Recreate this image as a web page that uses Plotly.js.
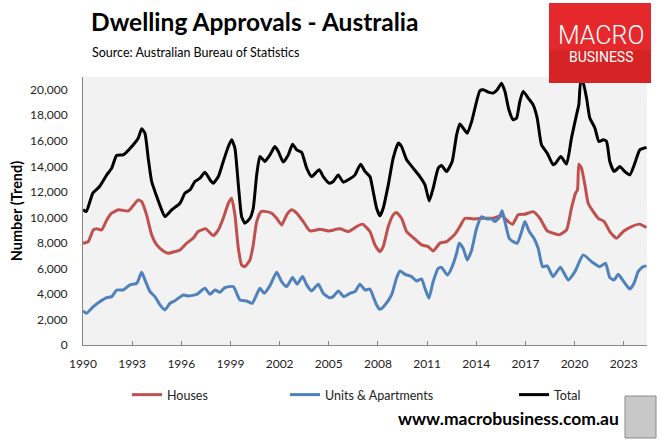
<!DOCTYPE html>
<html>
<head>
<meta charset="utf-8">
<script src="https://cdn.plot.ly/plotly-3.0.1.min.js"></script>
<style>
  body { margin: 0; background: #fff; }
  #chart { width: 660px; height: 440px; }
</style>
</head>
<body>
<div id="chart"></div>
<script>
// values (decimal years)
const housesX = [1990.0, 1990.32, 1990.63, 1990.84, 1991.14, 1991.45, 1991.75, 1992.16, 1992.77, 1993.07,
  1993.37, 1993.58, 1993.88, 1994.19, 1994.5, 1994.9, 1995.2, 1995.61, 1995.92, 1996.33,
  1996.73, 1997.03, 1997.49, 1997.95, 1998.26, 1998.56, 1998.87, 1999.07, 1999.27, 1999.48,
  1999.68, 1999.88, 2000.19, 2000.39, 2000.6, 2000.86, 2001.21, 2001.51, 2001.82, 2002.12,
  2002.43, 2002.73, 2003.04, 2003.44, 2003.85, 2004.46, 2004.97, 2005.68, 2006.19, 2006.7,
  2007.06, 2007.51, 2007.82, 2008.12, 2008.32, 2008.63, 2008.93, 2009.13, 2009.44, 2009.75,
  2010.15, 2010.66, 2011.07, 2011.37, 2011.78, 2012.19, 2012.7, 2013.0, 2013.31, 2013.82,
  2014.43, 2015.03, 2015.54, 2015.95, 2016.22, 2016.56, 2016.97, 2017.47, 2017.88, 2018.33,
  2018.69, 2019.06, 2019.51, 2019.81, 2020.06, 2020.18, 2020.26, 2020.42, 2020.63, 2020.83,
  2021.14, 2021.44, 2021.81, 2022.15, 2022.56, 2022.97, 2023.48, 2023.98, 2024.39];
const housesY = [7980, 8100, 9020, 9100, 9020, 9800, 10330, 10590, 10510, 10930,
  11370, 11240, 10200, 8630, 7840, 7370, 7190, 7320, 7450, 7980,
  8370, 8890, 9100, 8570, 9020, 9930, 11110, 11500, 10200, 7580,
  6270, 6140, 6670, 7840, 9670, 10450, 10450, 10330, 9930, 9410,
  10200, 10590, 10330, 9670, 8940, 9070, 8940, 9100, 8890, 9280,
  9470, 8890, 7840, 7320, 7710, 9280, 10200, 10380, 9930, 8890,
  8420, 7840, 7710, 7370, 7980, 8100, 8680, 9280, 9930, 9880,
  9930, 9930, 10140, 9670, 9470, 10200, 10250, 10450, 9930, 8940,
  8760, 8630, 9020, 10720, 11900, 12160, 14170, 13860, 12550, 11110,
  10450, 9930, 9670, 8890, 8370, 8890, 9280, 9470, 9200];

const unitsX = [1990.0, 1990.22, 1990.63, 1991.04, 1991.45, 1991.75, 1992.06, 1992.46, 1992.87, 1993.28,
  1993.58, 1993.78, 1994.09, 1994.39, 1994.7, 1995.0, 1995.31, 1995.61, 1996.12, 1996.42,
  1996.94, 1997.44, 1997.75, 1998.05, 1998.36, 1998.66, 1999.17, 1999.58, 1999.99, 2000.33,
  2000.8, 2001.06, 2001.41, 2001.82, 2002.12, 2002.43, 2002.79, 2003.07, 2003.4, 2003.65,
  2003.95, 2004.36, 2004.66, 2005.03, 2005.27, 2005.58, 2005.92, 2006.29, 2006.6, 2006.9,
  2007.21, 2007.51, 2007.71, 2007.92, 2008.12, 2008.43, 2008.83, 2009.13, 2009.34, 2009.65,
  2010.05, 2010.36, 2010.66, 2010.87, 2011.11, 2011.37, 2011.68, 2011.88, 2012.25, 2012.53,
  2012.8, 2012.96, 2013.2, 2013.45, 2013.72, 2014.02, 2014.33, 2014.63, 2014.94, 2015.14,
  2015.4, 2015.58, 2015.75, 2016.01, 2016.25, 2016.5, 2016.77, 2016.97, 2017.23, 2017.52,
  2017.78, 2018.05, 2018.33, 2018.69, 2019.13, 2019.61, 2020.02, 2020.53, 2021.04, 2021.54,
  2021.89, 2022.15, 2022.42, 2022.66, 2023.07, 2023.37, 2023.63, 2023.88, 2024.19, 2024.39];
const unitsY = [2670, 2490, 3000, 3400, 3710, 3790, 4310, 4310, 4710, 4840,
  5700, 5100, 4180, 3790, 3140, 2750, 3270, 3470, 3920, 3840,
  3970, 4440, 3970, 4310, 4130, 4500, 4580, 3530, 3450, 3270,
  4440, 4050, 4650, 5700, 4970, 4580, 5280, 4760, 5360, 4710,
  4240, 4760, 4050, 3710, 3790, 4240, 3790, 4050, 4180, 4760,
  4310, 4390, 3790, 3140, 2800, 3140, 3920, 5230, 5800, 5540,
  5360, 5020, 5180, 4440, 3660, 4970, 6010, 6070, 5490, 6140,
  7190, 7980, 7580, 6670, 7450, 9150, 10060, 9880, 9880, 9670,
  9980, 10510, 9670, 8370, 8100, 7980, 8890, 9670, 8890, 8370,
  7580, 6140, 6200, 5360, 6100, 5100, 5750, 7060, 6530, 6140,
  6410, 5280, 5100, 5540, 4840, 4390, 4840, 5750, 6140, 6200];

const totalX = [1990.0, 1990.2, 1990.6, 1991.0, 1991.45, 1991.75, 1992.05, 1992.46, 1993.07, 1993.37,
  1993.58, 1993.78, 1993.98, 1994.19, 1994.5, 1994.8, 1995.0, 1995.41, 1995.92, 1996.22,
  1996.53, 1996.83, 1997.14, 1997.44, 1997.75, 1997.95, 1998.26, 1998.56, 1998.87, 1999.07,
  1999.27, 1999.48, 1999.68, 1999.88, 2000.19, 2000.39, 2000.6, 2000.8, 2001.1, 2001.41,
  2001.71, 2001.92, 2002.22, 2002.53, 2002.79, 2003.04, 2003.34, 2003.65, 2003.95, 2004.42,
  2004.66, 2005.03, 2005.27, 2005.58, 2005.88, 2006.29, 2006.6, 2006.94, 2007.21, 2007.51,
  2007.71, 2007.92, 2008.12, 2008.32, 2008.63, 2008.93, 2009.24, 2009.44, 2009.75, 2010.15,
  2010.56, 2010.87, 2011.13, 2011.37, 2011.68, 2011.88, 2012.19, 2012.53, 2012.8, 2013.0,
  2013.2, 2013.45, 2013.72, 2013.92, 2014.22, 2014.43, 2014.73, 2015.03, 2015.28, 2015.54,
  2015.75, 2015.99, 2016.25, 2016.46, 2016.66, 2016.86, 2017.17, 2017.47, 2017.72, 2017.98,
  2018.33, 2018.69, 2018.85, 2019.16, 2019.51, 2019.81, 2020.12, 2020.26, 2020.38, 2020.53,
  2020.73, 2020.93, 2021.24, 2021.48, 2021.75, 2021.95, 2022.15, 2022.42, 2022.76, 2023.07,
  2023.37, 2023.68, 2023.98, 2024.39];
const totalY = [10600, 10450, 11900, 12400, 13330, 13860, 14850, 14900, 15690, 16200,
  16940, 16600, 14640, 12810, 11630, 10590, 10060, 10590, 11110, 11900,
  12160, 12810, 13070, 13540, 12940, 12680, 13200, 14380, 15550, 16080,
  15430, 12550, 10060, 9540, 9930, 10720, 13330, 14770, 14380, 14900,
  15550, 15160, 14330, 14900, 15740, 15290, 15110, 13860, 13200, 13730,
  13200, 12680, 12810, 13330, 12760, 13020, 13330, 14170, 13600, 13200,
  12030, 10720, 10120, 10720, 12550, 14640, 15820, 15550, 14510, 13860,
  13200, 12550, 11290, 12290, 13860, 14070, 13590, 14380, 16470, 17310,
  17000, 16600, 17520, 18560, 19920, 20000, 19820, 19740, 20000, 20520,
  19870, 18430, 17650, 17780, 19080, 19870, 19350, 18820, 17780, 15690,
  15030, 14120, 14250, 14770, 14170, 16210, 18040, 18820, 20700, 20520,
  19350, 17780, 17000, 15950, 16080, 15950, 14380, 13590, 13980, 13590,
  13330, 14250, 15290, 15470];

const tickYears = [1990, 1993, 1996, 1999, 2002, 2005, 2008, 2011, 2014, 2017, 2020, 2023];
const tickLabels = tickYears.map(String);
const seriesNames = ['Houses', 'Units & Apartments', 'Total'];

// plot area in pixels, used to place the extra bits in paper coords
const M = { l: 83, r: 13, t: 77, b: 95 };
const W = 660, H = 440;
const px = x => (x - M.l) / (W - M.l - M.r);
const py = y => (H - M.b - y) / (H - M.t - M.b);

const FONT = 'Lato, "Open Sans", sans-serif';

const line = (name, x, y, color, legend) => ({
  name: name, x: x, y: y, type: 'scatter', mode: 'lines',
  line: { color: color, width: 3, shape: 'spline', smoothing: 0.5 },
  legend: legend, hoverinfo: 'skip'
});

// one legend per series so each entry sits where Excel put it
const traces = [
  line(seriesNames[0], housesX, housesY, '#C0504D', 'legend2'),
  line(seriesNames[1], unitsX, unitsY, '#4F81BD', 'legend3'),
  line(seriesNames[2], totalX, totalY, '#000000', 'legend4')
];

const legendAt = x => ({
  x: px(x), y: py(395), xanchor: 'left', yanchor: 'middle',
  orientation: 'h', bgcolor: 'rgba(0,0,0,0)', itemwidth: 30,
  font: { family: FONT, size: 12.5, color: '#222' }
});

const layout = {
  width: W, height: H,
  margin: M,
  showlegend: true,
  paper_bgcolor: '#ffffff',
  plot_bgcolor: '#F2F2F2',
  font: { family: FONT, size: 12, color: '#222' },
  title: {
    text: '<b>Dwelling Approvals - Australia</b>',
    font: { family: FONT, size: 24.5, color: '#000' },
    xref: 'container', yref: 'container',
    x: 91 / W, xanchor: 'left', y: 1 - 22 / H, yanchor: 'middle'
  },
  xaxis: {
    range: [1990, 2024.42],
    tickvals: tickYears, ticktext: tickLabels,
    ticks: 'inside', ticklen: 4, tickcolor: '#868686',
    showline: true, linecolor: '#868686', linewidth: 1,
    showgrid: false, zeroline: false,
    ticklabelstandoff: 8,
    tickfont: { family: FONT, size: 12, color: '#222' }
  },
  yaxis: {
    range: [0, 21000], dtick: 2000, tickformat: ',d',
    ticks: '', showline: true, linecolor: '#868686', linewidth: 1,
    showgrid: false, zeroline: false,
    ticklabelstandoff: 12,
    tickfont: { family: FONT, size: 12, color: '#222' },
    title: { text: '<b>Number (Trend)</b>', font: { family: FONT, size: 14.5, color: '#000' }, standoff: 3 }
  },
  legend2: legendAt(127),
  legend3: legendAt(285),
  legend4: legendAt(514),
  shapes: [
    { type: 'rect', xref: 'paper', yref: 'paper', x0: px(549), x1: px(651), y0: py(83), y1: py(3),
      fillcolor: '#E5282B', line: { width: 0 }, layer: 'above' },
    { type: 'rect', xref: 'paper', yref: 'paper', x0: px(549), x1: px(651), y0: py(83), y1: py(50),
      fillcolor: '#CC1F22', line: { width: 0 }, layer: 'above', opacity: 0.6 },
    { type: 'rect', xref: 'paper', yref: 'paper', x0: px(625), x1: px(656), y0: py(438), y1: py(396),
      fillcolor: '#C8C8C8', line: { color: '#8A8A8A', width: 1 }, layer: 'above' }
  ],
  annotations: [
    { text: 'Source: Australian Bureau of Statistics', xref: 'paper', yref: 'paper',
      x: px(90), y: py(53), xanchor: 'left', yanchor: 'middle', showarrow: false,
      font: { family: FONT, size: 12.5, color: '#000' } },
    { text: 'MACRO', xref: 'paper', yref: 'paper', x: px(601), y: py(36),
      xanchor: 'center', yanchor: 'middle', showarrow: false,
      font: { family: 'Roboto, sans-serif', size: 25, color: '#fff', weight: 300 } },
    { text: 'BUSINESS', xref: 'paper', yref: 'paper', x: px(601), y: py(57),
      xanchor: 'center', yanchor: 'middle', showarrow: false,
      font: { family: 'Roboto, sans-serif', size: 14, color: '#fff' } },
    { text: '<b>www.macrobusiness.com.au</b>', xref: 'paper', yref: 'paper',
      x: px(621), y: py(418), xanchor: 'right', yanchor: 'middle', showarrow: false,
      font: { family: FONT, size: 17.5, color: '#000' } }
  ]
};

Plotly.newPlot('chart', traces, layout, { staticPlot: true, displayModeBar: false });
</script>
</body>
</html>
